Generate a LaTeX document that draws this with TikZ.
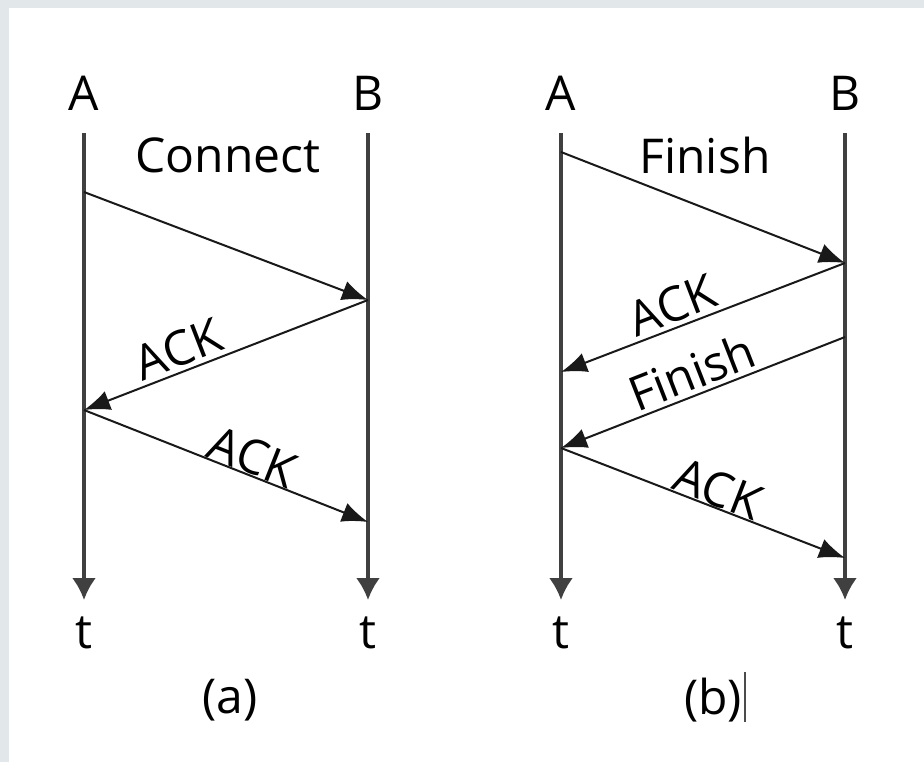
\documentclass[tikz,border=0pt]{standalone}
\usepackage{fontspec}
\setmainfont{Open Sans}
\usetikzlibrary{arrows.meta}
\definecolor{edge}{RGB}{226,232,233}
\begin{document}
\begin{tikzpicture}[x=0.5pt,y=-0.5pt,
    life/.style={draw=black!75, line width=1.6pt, -{Latex[length=11pt,width=12pt]}},
    msg/.style={draw=black!90, line width=1pt, -{Latex[length=13pt,width=10pt]}},
    lbl/.style={font=\fontsize{24}{28}\selectfont, inner sep=2pt}]
    \fill[edge] (0,0) rectangle (924,762);
    \fill[white] (9,8) rectangle (924,762);
    \useasboundingbox (0,0) rectangle (924,762);
    % (a): connect
    \node[lbl] (aA) at (84,93) {A};
    \node[lbl] (aB) at (368,93) {B};
    \node[lbl] (atA) at (84,633) {t};
    \node[lbl] (atB) at (368,633) {t};
    \node[lbl] (acap) at (230,700) {(a)};
    \coordinate (a0) at (84,133); \coordinate (a5) at (84,600);
    \coordinate (a6) at (368,133); \coordinate (a7) at (368,600);
    \coordinate (a1) at (84,192); \coordinate (a2) at (368,300);
    \coordinate (a3) at (84,410); \coordinate (a4) at (368,522);
    \draw[life] (a0) -- (a5);
    \draw[life] (a6) -- (a7);
    \node[lbl] (aconn) at (228,155) {Connect};
    \draw[msg] (a1) -- (a2);
    \draw[msg] (a2) -- node[lbl, pos=.64, above, sloped] {ACK} (a3);
    \draw[msg] (a3) -- node[lbl, pos=.57, above, sloped, inner sep=0pt] {ACK} (a4);
    % (b): finish
    \node[lbl] (bA) at (561,93) {A};
    \node[lbl] (bB) at (845,93) {B};
    \node[lbl] (btA) at (561,633) {t};
    \node[lbl] (btB) at (845,633) {t};
    \node[lbl] (bcap) at (713,700) {(b)};
    \coordinate (b0) at (561,133); \coordinate (b6) at (561,600);
    \coordinate (b7) at (845,133); \coordinate (b8) at (845,600);
    \coordinate (b1) at (561,152); \coordinate (b2) at (845,263);
    \coordinate (b9) at (561,372);
    \coordinate (b3) at (845,337); \coordinate (b4) at (561,448);
    \coordinate (b5) at (845,558);
    \draw[life] (b0) -- (b6);
    \draw[life] (b7) -- (b8);
    \node[lbl] (bfin) at (705,155) {Finish};
    \draw[msg] (b1) -- (b2);
    \draw[msg] (b2) -- node[lbl, pos=.58, above, sloped] {ACK} (b9);
    \draw[msg] (b3) -- node[lbl, pos=.51, above, sloped] {Finish} (b4);
    \draw[msg] (b4) -- node[lbl, pos=.53, above, sloped, inner sep=0pt] {ACK} (b5);
    % cursor
    \coordinate (c1) at (745,672); \coordinate (c2) at (745,722);
    \draw[line width=1pt, black!70] (c1) -- (c2);
\end{tikzpicture}
\end{document}
